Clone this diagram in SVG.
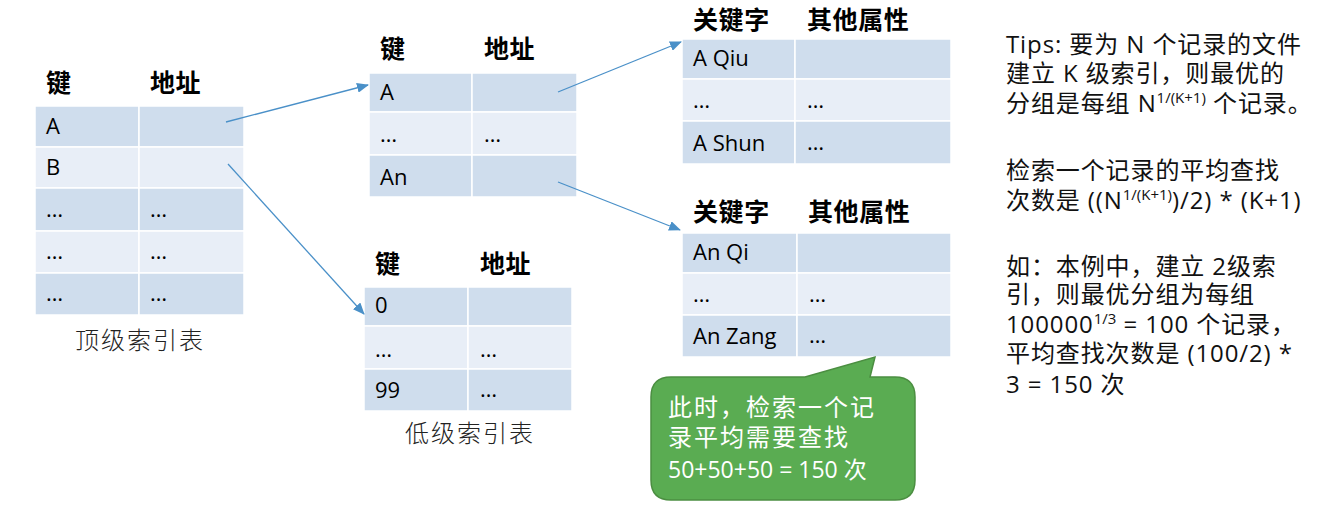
<svg xmlns="http://www.w3.org/2000/svg" width="1339" height="514" viewBox="0 0 1339 514">
<defs>
<style>
.t{font-family:"Open Sans","Noto Sans CJK SC",sans-serif;fill:#000}
.h{font-family:"Noto Sans CJK SC",sans-serif;font-size:25px;font-weight:bold;fill:#000;letter-spacing:0.6px}
.c{font-size:22px}
.d{fill:#CFDDED;stroke:#fff;stroke-width:1.5}
.l{fill:#E8EEF7;stroke:#fff;stroke-width:1.5}
.cap{font-family:"Noto Sans CJK SC",sans-serif;font-size:24px;font-weight:300;fill:#222;letter-spacing:2px}
.tip{font-family:"Open Sans","Noto Sans CJK SC",sans-serif;font-size:24px;fill:#111;letter-spacing:0.9px}
.sup{font-size:15px;letter-spacing:0}
.conn{stroke:#4A90C8;stroke-width:1.3;fill:none;marker-end:url(#ah)}
.gt{font-family:"Open Sans","Noto Sans CJK SC",sans-serif;fill:#fff}
</style>
<marker id="ah" markerWidth="12" markerHeight="10" refX="11" refY="5" orient="auto" markerUnits="userSpaceOnUse">
<path d="M0,0 L12,5 L0,10 Z" fill="#4A90C8"/>
</marker>
</defs>
<rect width="1339" height="514" fill="#fff"/>

<g id="top-table">
<text class="h" x="46" y="92">键</text>
<text class="h" x="150" y="92">地址</text>
<rect class="d" x="35" y="106" width="104" height="41"/><rect class="d" x="139" y="106" width="105" height="41"/>
<rect class="l" x="35" y="147" width="104" height="41"/><rect class="l" x="139" y="147" width="105" height="41"/>
<rect class="d" x="35" y="188" width="104" height="43"/><rect class="d" x="139" y="188" width="105" height="43"/>
<rect class="l" x="35" y="231" width="104" height="42"/><rect class="l" x="139" y="231" width="105" height="42"/>
<rect class="d" x="35" y="273" width="104" height="42"/><rect class="d" x="139" y="273" width="105" height="42"/>
<text class="t c" x="46" y="134">A</text>
<text class="t c" x="46" y="175">B</text>
<text class="t c" x="46" y="217">…</text><text class="t c" x="150" y="217">…</text>
<text class="t c" x="46" y="259">…</text><text class="t c" x="150" y="259">…</text>
<text class="t c" x="46" y="301">…</text><text class="t c" x="150" y="301">…</text>
<text class="cap" x="140" y="349" text-anchor="middle">顶级索引表</text>
</g>

<g id="mid-table">
<text class="h" x="380" y="58">键</text>
<text class="h" x="484" y="58">地址</text>
<rect class="d" x="369" y="73" width="103" height="39"/><rect class="d" x="472" y="73" width="105" height="39"/>
<rect class="l" x="369" y="112" width="103" height="43"/><rect class="l" x="472" y="112" width="105" height="43"/>
<rect class="d" x="369" y="155" width="103" height="42"/><rect class="d" x="472" y="155" width="105" height="42"/>
<text class="t c" x="380" y="100">A</text>
<text class="t c" x="380" y="142">…</text><text class="t c" x="484" y="142">…</text>
<text class="t c" x="380" y="185">An</text>
</g>

<g id="low-table">
<text class="h" x="375" y="273">键</text>
<text class="h" x="480" y="273">地址</text>
<rect class="d" x="364" y="287" width="104" height="39"/><rect class="d" x="468" y="287" width="104" height="39"/>
<rect class="l" x="364" y="326" width="104" height="43"/><rect class="l" x="468" y="326" width="104" height="43"/>
<rect class="d" x="364" y="369" width="104" height="42"/><rect class="d" x="468" y="369" width="104" height="42"/>
<text class="t c" x="375" y="313">0</text>
<text class="t c" x="375" y="357">…</text><text class="t c" x="480" y="357">…</text>
<text class="t c" x="375" y="398">99</text><text class="t c" x="480" y="397">…</text>
<text class="cap" x="470" y="442" text-anchor="middle">低级索引表</text>
</g>

<g id="rec-table-1">
<text class="h" x="693" y="29">关键字</text>
<text class="h" x="807" y="29">其他属性</text>
<rect class="d" x="682" y="39" width="113" height="40"/><rect class="d" x="795" y="39" width="156" height="40"/>
<rect class="l" x="682" y="79" width="113" height="42"/><rect class="l" x="795" y="79" width="156" height="42"/>
<rect class="d" x="682" y="121" width="113" height="43"/><rect class="d" x="795" y="121" width="156" height="43"/>
<text class="t c" x="693" y="66">A Qiu</text>
<text class="t c" x="693" y="108">…</text><text class="t c" x="807" y="108">…</text>
<text class="t c" x="693" y="151">A Shun</text><text class="t c" x="807" y="150">…</text>
</g>

<g id="rec-table-2">
<text class="h" x="693" y="221">关键字</text>
<text class="h" x="808" y="221">其他属性</text>
<rect class="d" x="682" y="233" width="115" height="40"/><rect class="d" x="797" y="233" width="154" height="40"/>
<rect class="l" x="682" y="273" width="115" height="42"/><rect class="l" x="797" y="273" width="154" height="42"/>
<rect class="d" x="682" y="315" width="115" height="42"/><rect class="d" x="797" y="315" width="154" height="42"/>
<text class="t c" x="693" y="260">An Qi</text>
<text class="t c" x="693" y="302">…</text><text class="t c" x="809" y="302">…</text>
<text class="t c" x="693" y="344">An Zang</text><text class="t c" x="809" y="343">…</text>
</g>

<g id="connectors">
<line class="conn" x1="226" y1="122" x2="368" y2="85"/>
<line class="conn" x1="228" y1="164" x2="364" y2="314"/>
<line class="conn" x1="558" y1="92" x2="681" y2="42"/>
<line class="conn" x1="558" y1="182" x2="680" y2="230"/>
</g>

<g id="callout">
<path d="M671,377 L805,377 L875,357 L870,377 L895,377 Q915,377 915,397 L915,480 Q915,500 895,500 L671,500 Q651,500 651,480 L651,397 Q651,377 671,377 Z" fill="#5AAC52" stroke="#4B8E41" stroke-width="1.5"/>
<text class="gt" x="668" y="416" font-size="24" font-family="Noto Sans CJK SC, sans-serif" letter-spacing="2">此时，检索一个记</text>
<text class="gt" x="668" y="446" font-size="24" font-family="Noto Sans CJK SC, sans-serif" letter-spacing="2">录平均需要查找</text>
<text class="gt" x="668" y="478" font-size="23">50+50+50 = 150 次</text>
</g>

<g id="tips">
<text class="tip" x="1006" y="53">Tips: 要为 N 个记录的文件</text>
<text class="tip" x="1006" y="82">建立 K 级索引，则最优的</text>
<text class="tip" x="1006" y="112">分组是每组 N<tspan class="sup" dy="-9">1/(K+1)</tspan><tspan dy="9"> 个记录。</tspan></text>
<text class="tip" x="1006" y="179">检索一个记录的平均查找</text>
<text class="tip" x="1006" y="209">次数是 ((N<tspan class="sup" dy="-9">1/(K+1)</tspan><tspan dy="9">)/2) * (K+1)</tspan></text>
<text class="tip" x="1006" y="275">如：本例中，建立 2级索</text>
<text class="tip" x="1006" y="303">引，则最优分组为每组</text>
<text class="tip" x="1006" y="333">100000<tspan class="sup" dy="-9">1/3</tspan><tspan dy="9"> = 100 个记录，</tspan></text>
<text class="tip" x="1006" y="362">平均查找次数是 (100/2) *</text>
<text class="tip" x="1006" y="393">3 = 150 次</text>
</g>
</svg>
